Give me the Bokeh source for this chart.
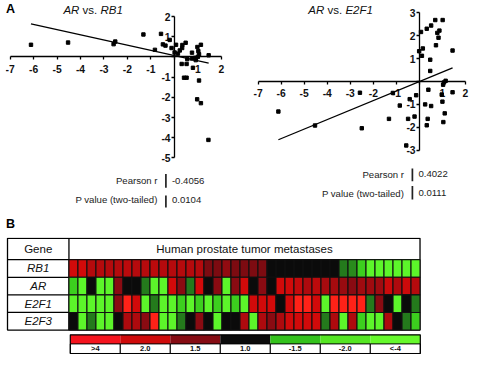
import numpy as np
from bokeh.plotting import figure
from bokeh.models import Range1d, FixedTicker, Label, LinearColorMapper, ColumnDataSource
from bokeh.transform import transform
from bokeh.layouts import column, row
from bokeh.embed import file_html
from bokeh.resources import INLINE
from bokeh.core.properties import value

# ---------------- data ----------------
# Panel A: AR (x) vs RB1 (y)
ar_x_rb1 = [-6.11, -4.53, -2.59, -2.52, -1.32, -0.83, -0.57, -0.49, -0.38, -0.20,
            -0.12, 0.07, 0.01, 0.15, 0.23, 0.33, 0.34, 0.48, 0.31, 0.52,
            0.41, 0.52, 0.55, 0.75, 0.75, 0.79, 0.91, 1.05, 0.97, 1.13,
            0.98, 1.02, 1.05, 1.13, 1.46, 1.45, 0.88, 1.00]
rb1_y = [0.60, 0.71, 0.63, 0.76, 1.11, 0.35, 1.14, 0.62, 0.56, 0.84,
         0.44, 0.60, 0.22, 0.16, 0.32, 0.44, 0.59, 0.70, -0.35, -0.35,
         -1.03, -1.03, -0.11, 0.21, -0.08, -0.54, -0.16, -1.17, -2.10, -2.29,
         0.49, 0.29, 0.13, 0.60, 0.08, -4.11, -0.05, 0.00]
# Panel A (right): AR (x) vs E2F1 (y)
ar_x_e2f1 = [-6.12, -4.53, -2.58, -2.50, -1.32, -1.15, -0.85, -0.57, -0.49, -0.42,
             -0.21, -0.14, -0.01, 0.07, 0.11, 0.15, 0.25, 0.32, 0.36, 0.39,
             0.32, 0.47, 0.47, 0.51, 0.51, 0.72, 0.69, 0.78, 0.83, 0.87,
             0.97, 1.00, 1.01, 1.03, 1.04, 1.07, 1.10, 1.14, 1.44, 1.44]
e2f1_y = [-1.31, -1.92, -0.49, -2.04, -1.63, -0.50, -1.05, -2.79, -1.63, -0.77,
          -1.53, -0.60, 1.32, 2.16, 1.12, 1.44, -1.00, -1.91, -1.63, -0.36,
          2.30, 0.95, 0.46, 2.44, -1.07, 1.58, 2.68, 2.12, 1.91, 2.22,
          -0.57, -0.88, 2.68, -0.14, -1.77, -0.04, -1.39, 0.03, 1.35, -0.47]
rb1_fit_slope, rb1_fit_intercept = -0.256, 0.066
e2f1_fit_slope, e2f1_fit_intercept = 0.415, 0.0
stat_names = ["Pearson r", "P value (two-tailed)"]
rb1_stats = ["-0.4056", "0.0104"]
e2f1_stats = ["0.4022", "0.0111"]
x_ticks = [-7, -6, -5, -4, -3, -2, -1, 0, 1, 2]
rb1_ticks = [-5, -4, -3, -2, -1, 0, 1, 2]
e2f1_ticks = [-3, -2, -1, 0, 1, 2, 3]

# Panel B: heatmap (codes: 3 >4, 2 = 2.0, 1 = 1.5, 0 = 1.0, -1/-2/-3 green levels)
genes = ["RB1", "AR", "E2F1", "E2F3"]
heat_rb1 = [2, 2, 1.6, 1.6, 1.6, 1.6, 1.7, 1.6, 1.6, 1.7, 1.6, 1.6, 1.6, 1.6, 1.6,
            0.9, 0.9, 1.1, 0.9, 0.9, 0.9, 0.9, 0, 0, 0, 0, 0, 0, 0, 0,
            -1, -1.2, -2, -3, -3, -3, -3, -3, -3]
heat_ar = [-2, -3, 0, -3, -3, 1, 0, 0, -1, -3, -3, 2, 1, -1, 2, 0, 1, -3, 1, 2,
           0, 1, 0, 2, 2, 1.8, 1.5, 1.7, 1.4, 1.4, 1.2, 1.0, 1.3, 1.3, 1.3, 1.9, 1.5, 1.9, 1.6]
heat_e2f1 = [-3, -3, -3, -3, -3, 1, 3, 2, -3, -1, -3, -3, -2, -3, -2, -3, -2, -3, -2, -3,
             2, 2, 2, 0, 2, 3, 3, 2, -3, 3, 3, 3, 3, -1, 1, 0, -3, 0, -1]
heat_e2f3 = [0, -3, -1, -3, -3, 0, 1.5, 1.5, 1, 3, -3, -3, -1, 0, 1, 0, -3, 0, 0, 1.5,
             -3, 1.5, 1, 1.5, 2, 2, 2, 2, -1, 1.5, -3, 1.5, -2, -3, -3, 1.5, 0, -1, -2]
heat_header = "Human prostate tumor metastases"
legend_labels = [">4", "2.0", "1.5", "1.0", "-1.5", "-2.0", "<-4"]
legend_colors = ["#f5141e", "#cf0b0b", "#860c14", "#0b0b0b", "#34c21c", "#55e623", "#66f92c"]
code_anchor_colors = ["#5cf52a", "#3ccf1e", "#247a1c", "#0b0b0b", "#8a0b12", "#d20a0a", "#ff2218"]

# ---------------- layout / style ----------------
FONT = "Liberation Sans"
S = 0.96
W_A, W_B, H_TOP, H_HEAT = 235, 239, 237, 118
AX_L, AX_B = 5, 8
TITLE_SIZE = 11.5
STAT_SIZE = 9.6
TICK_SIZE = "10.3px"
CHAR_W = {"A": .667, "R": .722, " ": .278, "v": .5, "s": .5, ".": .278, "B": .667,
          "1": .556, "E": .667, "2": .556, "F": .611}


def text_w(s, size):
    return sum(CHAR_W.get(c, 0.556) for c in s) * size


def make_scatter(W, xmap, ymap, yticks, xs, ys, slope, icpt, gene, stats,
                 title_cx, bar_x, rows_cy, bars, letters):
    x0, xp = xmap
    y0, yp = ymap
    dx = lambda px: x_ticks[0] + (px - x0) / xp
    dy = lambda py: yticks[-1] - (py - y0) / yp
    p = figure(width=W, height=H_TOP,
               x_range=Range1d(dx(AX_L), dx(W)), y_range=Range1d(dy(H_TOP - AX_B), dy(0)),
               min_border_left=AX_L, min_border_right=0, min_border_top=0,
               min_border_bottom=AX_B, toolbar_location=None, output_backend="svg",
               title=None)
    p.outline_line_color = None
    p.grid.visible = False
    for ax, ticks in ((p.xaxis[0], x_ticks), (p.yaxis[0], yticks)):
        ax.fixed_location = 0
        ax.bounds = (ticks[0], ticks[-1])
        ax.ticker = FixedTicker(ticks=ticks)
        ax.major_tick_in = 0
        ax.major_tick_out = 3
        ax.minor_tick_line_color = None
        ax.axis_line_width = 1.3
        ax.major_tick_line_width = 1.3
        ax.major_label_standoff = 0
        ax.major_label_text_color = None

    # tick labels (axes cross at the origin; zero labels omitted)
    xl = [t for t in x_ticks if t != 0]
    yl = [t for t in yticks if t != 0]
    p.text(x=xl, y=[-12.0 / yp] * len(xl), text=[str(t) for t in xl],
           text_font=value(FONT), text_font_style="bold", text_font_size=TICK_SIZE,
           text_align="center", text_baseline="middle", text_color="#111111")
    p.text(x=[-3.8 / xp] * len(yl), y=yl, text=[str(t) for t in yl],
           text_font=value(FONT), text_font_style="bold", text_font_size=TICK_SIZE,
           text_align="right", text_baseline="middle", text_color="#111111")

    p.scatter(xs, ys, marker="square", size=3.4, color="black")
    lx = [min(xs), max(xs)]
    p.line(lx, [slope * v + icpt for v in lx], line_color="black", line_width=1.3)

    parts = [("AR", "italic"), ("vs.", "normal"), (gene, "italic")]
    total = text_w("AR vs. " + gene, TITLE_SIZE)
    cx = title_cx - total / 2
    for t, st in parts:
        p.add_layout(Label(x=dx(cx), y=dy(9.6), text=t, text_font=FONT, text_font_style=st,
                           text_font_size=f"{TITLE_SIZE}px", text_baseline="middle",
                           text_align="left", text_color="#111111"))
        cx += text_w(t + " ", TITLE_SIZE)

    for name, val, cy, (b0, b1) in zip(stat_names, stats, rows_cy, bars):
        p.add_layout(Label(x=dx(bar_x - 8.4), y=dy(cy), text=name, text_font=FONT,
                           text_font_size=f"{STAT_SIZE}px", text_baseline="middle",
                           text_align="right", text_color="#222222"))
        p.add_layout(Label(x=dx(bar_x + 6), y=dy(cy), text=val, text_font=FONT,
                           text_font_size=f"{STAT_SIZE}px", text_baseline="middle",
                           text_align="left", text_color="#222222"))
        p.segment(x0=[dx(bar_x)], y0=[dy(b0)], x1=[dx(bar_x)], y1=[dy(b1)],
                  line_width=1.7, line_color="#222222")

    for t, px, py in letters:
        p.add_layout(Label(x=dx(px), y=dy(py), text=t, text_font=FONT, text_font_style="bold",
                           text_font_size="12.5px", text_baseline="middle", text_align="left",
                           text_color="black"))
    return p


pA = make_scatter(W_A, (9.6, 23.47), (16.0, 20.2), rb1_ticks, ar_x_rb1, rb1_y,
                  rb1_fit_slope, rb1_fit_intercept, "RB1", rb1_stats,
                  92.6, 165.4, (180.2, 199.0), ((173.5, 187.2), (194.9, 207.1)),
                  [("A", 5.5, 8.8), ("B", 5.5, 223.8)])
pB = make_scatter(W_B, (22.6, 23.04), (12.2, 22.93), e2f1_ticks, ar_x_e2f1, e2f1_y,
                  e2f1_fit_slope, e2f1_fit_intercept, "E2F1", e2f1_stats,
                  105.1, 176.9, (173.5, 192.7), ((168.0, 180.8), (185.6, 199.0)), [])

# ---------------- heatmap ----------------
n = len(heat_rb1)
left_px = S * 71.3
cell_px = S * (437.0 - 71.3) / n
row_px = S * 18.33
bottom_px = S * 343.3 - H_TOP
hx = lambda px: -0.5 + (px - left_px) / cell_px
hy = lambda py: -0.5 + (bottom_px - py) / row_px

ph = figure(width=W_A + W_B, height=H_HEAT,
            x_range=Range1d(hx(0), hx(W_A + W_B)), y_range=Range1d(hy(H_HEAT), hy(0)),
            x_axis_location=None, y_axis_location=None, min_border=0,
            toolbar_location=None, output_backend="svg", title=None)
ph.outline_line_color = None
ph.grid.visible = False

t_left = hx(S * 7.3)
t_top = hy(S * 247.7 - H_TOP)
t_right = n - 0.5
ph.quad(left=[t_left], right=[t_right], top=[t_top], bottom=[-0.5],
        fill_color="white", line_color="black", line_width=1.3)
ph.segment(x0=[t_left] * 4, x1=[t_right] * 4, y0=[0.5, 1.5, 2.5, 3.5], y1=[0.5, 1.5, 2.5, 3.5],
           line_color="black", line_width=1.3)
ph.segment(x0=[-0.5], x1=[-0.5], y0=[-0.5], y1=[t_top], line_color="black", line_width=1.3)

rows = [heat_rb1, heat_ar, heat_e2f1, heat_e2f3]
xs, ys, vs = [], [], []
for gi, vals in enumerate(rows):
    for ci, v in enumerate(vals):
        xs.append(ci)
        ys.append(len(genes) - 1 - gi)
        vs.append(v)
src = ColumnDataSource(dict(x=xs, y=ys, v=vs))


def _interp(c1, c2, t):
    a = [int(c1[i:i + 2], 16) for i in (1, 3, 5)]
    b = [int(c2[i:i + 2], 16) for i in (1, 3, 5)]
    return "#" + "".join(f"{int(round(a[k] + (b[k] - a[k]) * t)):02x}" for k in range(3))


palette = []
for k in range(61):
    v = -3 + k * 0.1
    lo = min(int(np.floor(v + 3 + 1e-9)), 5)
    palette.append(_interp(code_anchor_colors[lo], code_anchor_colors[lo + 1], v + 3 - lo))
mapper = LinearColorMapper(palette=palette, low=-3.05, high=3.05)
ph.rect(x="x", y="y", width=1, height=1, source=src,
        fill_color=transform("v", mapper), line_color="#111111", line_width=1.1)

gene_cx = (t_left - 0.5) / 2
head_y = hy(S * 258.9 - H_TOP)
ph.text(x=[gene_cx, (n - 1) / 2], y=[head_y, head_y], text=["Gene", heat_header],
        text_font=value(FONT), text_font_size="11.5px", text_align="center",
        text_baseline="middle", text_color="#111111")
ph.text(x=[gene_cx] * 4, y=[3, 2, 1, 0], text=genes, text_font=value(FONT),
        text_font_style="italic", text_font_size="11.5px", text_align="center",
        text_baseline="middle", text_color="#111111")

lg_l, lg_r = hx(S * 72.7), hx(S * 437.3)
lg_t, lg_m, lg_b = hy(S * 348.3 - H_TOP), hy(S * 357.7 - H_TOP), hy(S * 367.7 - H_TOP)
k = len(legend_labels)
bw = (lg_r - lg_l) / k
lefts = [lg_l + i * bw for i in range(k)]
rights = [lg_l + (i + 1) * bw for i in range(k)]
ph.quad(left=lefts, right=rights, top=[lg_t] * k, bottom=[lg_m] * k,
        fill_color=legend_colors, line_color=None)
ph.quad(left=lefts, right=rights, top=[lg_m] * k, bottom=[lg_b] * k,
        fill_color="white", line_color="black", line_width=1)
ph.quad(left=[lg_l], right=[lg_r], top=[lg_t], bottom=[lg_b], fill_color=None,
        line_color="black", line_width=1.2)
ph.text(x=[lg_l + (i + 0.5) * bw for i in range(k)], y=[(lg_m + lg_b) / 2] * k,
        text=legend_labels, text_font=value(FONT), text_font_style="bold",
        text_font_size="7.5px", text_align="center", text_baseline="middle",
        text_color="#111111")

layout = column(row(pA, pB), ph)
open("out.html", "w").write(file_html(layout, INLINE))
